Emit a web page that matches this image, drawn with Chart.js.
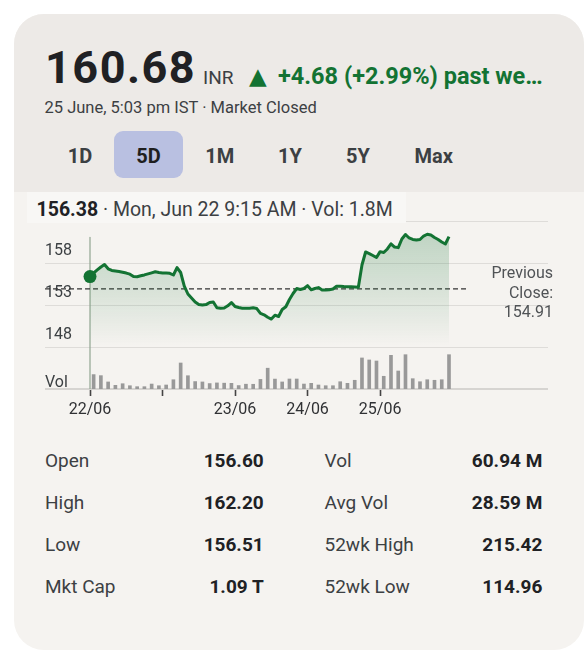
<!DOCTYPE html>
<html>
<head>
<meta charset="utf-8">
<script src="https://cdn.jsdelivr.net/npm/chart.js@4.4.1/dist/chart.umd.min.js"></script>
<style>
  body { margin: 0; width: 585px; height: 655px; overflow: hidden; background: #fff; font-family: Roboto, sans-serif; position: relative; }
  .abs { position: absolute; line-height: 1; white-space: nowrap; }
  .card { position: absolute; left: 14px; top: 14px; width: 570px; height: 636px; border-radius: 30px; background: #f5f3f0; overflow: hidden; }
  .head { position: absolute; left: 0; top: 0; width: 100%; height: 178px; background: #edeae7; }
  .tab { position: absolute; width: 70px; text-align: center; font-size: 20px; font-weight: bold; color: #3c4043; line-height: 1; top: 145.5px; }
  .lbl { font-size: 19px; color: #3c4043; }
  .val { font-size: 19px; font-weight: bold; color: #202124; text-align: right; width: 120px; }
  #wrap { position: absolute; left: 0; top: 190px; width: 585px; height: 232px; }
</style>
</head>
<body>
<div class="card"><div class="head"></div></div>

<div class="abs" style="left:45px; top:45.4px; font-size:45px; font-weight:bold; letter-spacing:1.5px; color:#202124;">160.68</div>
<div class="abs" style="left:203px; top:68px; font-size:19px; color:#3c4043;">INR</div>
<div class="abs" style="left:249px; top:65px; font-size:23px; font-family:'DejaVu Sans'; color:#137333;">▲</div>
<div class="abs" style="left:278px; top:64.5px; font-size:23.5px; font-weight:bold; color:#137333;">+4.68 (+2.99%) past we…</div>
<div class="abs" style="left:44.5px; top:99.5px; font-size:16.5px; color:#3c4043;">25 June, 5:03 pm IST · Market Closed</div>

<div class="abs" style="left:113.8px; top:131px; width:69px; height:47px; border-radius:9px; background:#b9c0e1;"></div>
<div class="tab" style="left:45px;">1D</div>
<div class="tab" style="left:113.5px; color:#1f1f1f;">5D</div>
<div class="tab" style="left:184.8px;">1M</div>
<div class="tab" style="left:255px;">1Y</div>
<div class="tab" style="left:323px;">5Y</div>
<div class="tab" style="left:398.8px;">Max</div>

<div id="wrap"><canvas id="priceChart"></canvas></div>

<div class="abs" style="left:27px; top:192px; width:379px; height:31px; background:#f8f7f5;"></div>
<div class="abs" style="left:36.5px; top:199.5px; font-size:19.5px; color:#3c4043;"><b style="color:#202124;">156.38</b> · Mon, Jun 22 9:15 AM · Vol: 1.8M</div>

<div class="abs" style="left:453px; top:263px; width:100px; text-align:right; font-size:16px; line-height:19.5px; color:#505356;">Previous<br>Close:<br>154.91</div>

<div class="abs lbl" style="left:45px; top:450.7px;">Open</div>
<div class="abs val" style="left:143.7px; top:450.7px;">156.60</div>
<div class="abs lbl" style="left:45px; top:492.5px;">High</div>
<div class="abs val" style="left:143.7px; top:492.5px;">162.20</div>
<div class="abs lbl" style="left:45px; top:534.5px;">Low</div>
<div class="abs val" style="left:143.7px; top:534.5px;">156.51</div>
<div class="abs lbl" style="left:45px; top:576.5px;">Mkt Cap</div>
<div class="abs val" style="left:143.7px; top:576.5px;">1.09 T</div>

<div class="abs lbl" style="left:324.5px; top:450.7px;">Vol</div>
<div class="abs val" style="left:422.3px; top:450.7px;">60.94 M</div>
<div class="abs lbl" style="left:324.5px; top:492.5px;">Avg Vol</div>
<div class="abs val" style="left:422.3px; top:492.5px;">28.59 M</div>
<div class="abs lbl" style="left:324.5px; top:534.5px;">52wk High</div>
<div class="abs val" style="left:422.3px; top:534.5px;">215.42</div>
<div class="abs lbl" style="left:324.5px; top:576.5px;">52wk Low</div>
<div class="abs val" style="left:422.3px; top:576.5px;">114.96</div>

<script>
// 5 day price, one value per half volume slot
const priceValues = [
  156.38, 156.81, 157.17, 157.52, 157.82, 157.31, 157.11, 157.05, 156.99, 156.89,
  156.80, 156.67, 156.38, 156.37, 156.48, 156.58, 156.70, 156.83, 156.96, 156.87,
  156.82, 156.80, 156.77, 156.57, 157.46, 156.87, 155.26, 154.31, 153.83, 153.36,
  153.06, 153.00, 153.05, 153.30, 153.36, 152.68, 152.62, 152.64, 152.90, 153.30,
  152.82, 152.70, 152.62, 152.61, 152.61, 152.67, 152.58, 152.00, 151.83, 151.54,
  151.33, 151.79, 151.63, 152.46, 152.79, 153.65, 154.37, 154.96, 154.85, 154.96,
  155.30, 154.81, 154.96, 155.07, 154.79, 154.79, 154.82, 154.90, 155.24, 155.23,
  155.20, 155.18, 155.17, 155.14, 155.11, 157.76, 159.31, 159.12, 158.89, 158.65,
  159.35, 159.25, 159.67, 160.29, 159.90, 159.83, 160.86, 161.39, 160.98, 160.80,
  160.74, 160.80, 161.21, 161.42, 161.33, 161.04, 160.80, 160.50, 160.26, 161.13
];
// volume in millions
const volumeValues = [
  1.80, 1.67, 0.88, 0.46, 0.66, 0.41, 0.29, 0.29, 0.62, 0.41,
  0.50, 1.16, 3.25, 1.66, 0.93, 0.88, 0.68, 0.76, 0.73, 0.71,
  0.43, 0.60, 0.59, 1.20, 2.60, 1.24, 0.88, 1.25, 1.25, 0.62,
  0.71, 0.50, 0.41, 0.41, 0.91, 0.71, 1.09, 3.88, 3.63, 3.50,
  1.59, 4.21, 2.25, 4.29, 1.29, 0.91, 1.16, 1.09, 1.16, 4.29
];
const dayLabels = ['22/06', '', '23/06', '24/06', '25/06'];
const dayTicks = [0, 20, 40, 60, 80];
const priceTicks = [163, 158, 153, 148, 143];
const priceLabels = ['', '158', '153', '148', ''];
const previousClose = 154.91;
const cursorTop = 161.1;

const green = '#137333';
const priceMin = 143, priceMax = 163;

const ctx = document.getElementById('priceChart').getContext('2d');
new Chart(ctx, {
    data: {
        datasets: [
            {
                type: 'line',
                order: 0,
                data: priceValues.map((v, i) => ({ x: i, y: v })),
                borderColor: green,
                borderWidth: 3,
                borderJoinStyle: 'round',
                tension: 0,
                pointRadius: c => c.dataIndex === 0 ? 6.5 : 0,
                pointBackgroundColor: green,
                pointBorderWidth: 0,
                fill: 'start',
                backgroundColor: c => {
                    const area = c.chart.chartArea;
                    if (!area) return 'rgba(19,115,51,0.15)';
                    const g = c.chart.ctx.createLinearGradient(0, area.top, 0, area.top + 125);
                    g.addColorStop(0, 'rgba(19,115,51,0.26)');
                    g.addColorStop(0.5, 'rgba(19,115,51,0.14)');
                    g.addColorStop(1, 'rgba(19,115,51,0)');
                    return g;
                }
            },
            {
                type: 'line',
                order: 1,
                data: [{ x: -12.4, y: previousClose }, { x: 104.3, y: previousClose }],
                borderColor: '#333',
                borderWidth: 1.3,
                borderDash: [5, 3],
                pointRadius: 0,
                fill: false
            },
            {
                type: 'line',
                order: 2,
                data: [{ x: 0, y: cursorTop }, { x: 0, y: priceMin }],
                borderColor: 'rgba(150,170,150,0.55)',
                borderWidth: 1,
                pointRadius: 0,
                fill: false
            },
            {
                type: 'bar',
                order: 3,
                yAxisID: 'yv',
                data: volumeValues.map((v, i) => ({ x: 2 * i + 1, y: v })),
                backgroundColor: '#999',
                barThickness: 3
            }
        ]
    },
    options: {
        responsive: true,
        maintainAspectRatio: false,
        animation: false,
        layout: { padding: { left: 45, right: 37, top: 31, bottom: 3 } },
        plugins: { legend: { display: false }, tooltip: { enabled: false } },
        scales: {
            x: {
                type: 'linear',
                offset: false,
                min: -12.41,
                max: 126.3,
                afterBuildTicks: s => { s.ticks = dayTicks.map(v => ({ value: v })); },
                afterFit: s => { s.height = 30; },
                ticks: {
                    autoSkip: false,
                    maxRotation: 0,
                    padding: 4,
                    color: '#303134',
                    font: { family: 'Roboto', size: 16 },
                    callback: (v, i) => dayLabels[i]
                },
                grid: { offset: false, drawOnChartArea: false, drawTicks: true, tickLength: 7, tickColor: '#444', tickWidth: 1.6 },
                border: { display: false }
            },
            y: {
                min: priceMin,
                max: priceMax,
                afterBuildTicks: s => { s.ticks = priceTicks.map(v => ({ value: v })); },
                afterFit: s => { s.width = 0; },
                ticks: {
                    mirror: true,
                    padding: 0,
                    labelOffset: -12.5,
                    color: '#3c4043',
                    font: { family: 'Roboto', size: 16 },
                    callback: (v, i) => priceLabels[i]
                },
                grid: {
                    drawTicks: false,
                    color: c => c.index === priceTicks.length - 1 ? '#d6d4d1' : '#dedcd9',
                    lineWidth: c => c.index === priceTicks.length - 1 ? 2 : 1
                },
                border: { display: false }
            },
            yv: {
                position: 'left',
                min: 0,
                max: 21,
                afterBuildTicks: s => { s.ticks = [{ value: 0 }]; },
                afterFit: s => { s.width = 0; },
                ticks: {
                    mirror: true,
                    padding: 0,
                    labelOffset: -6,
                    color: '#3c4043',
                    font: { family: 'Roboto', size: 16 },
                    callback: () => 'Vol'
                },
                grid: { display: false },
                border: { display: false }
            }
        }
    }
});
</script>
</body>
</html>
